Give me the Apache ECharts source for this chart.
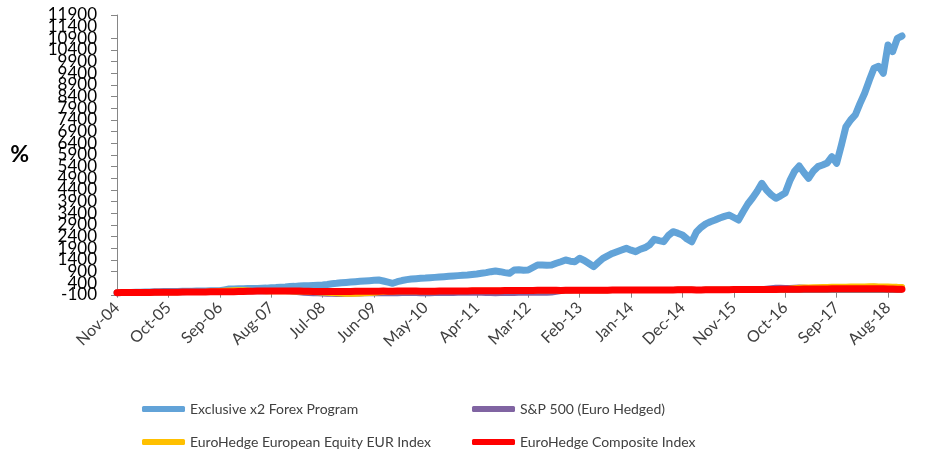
<!DOCTYPE html>
<html>
<head>
<meta charset="utf-8">
<script src="https://cdn.jsdelivr.net/npm/echarts@6/dist/echarts.min.js"></script>
<style>
  html, body { margin: 0; padding: 0; background: #fff; }
  #main { width: 938px; height: 453px; }
</style>
</head>
<body>
<div id="main"></div>
<script>
// monthly, Nov-04 .. Nov-18
var monthNames = ['Jan', 'Feb', 'Mar', 'Apr', 'May', 'Jun', 'Jul', 'Aug', 'Sep', 'Oct', 'Nov', 'Dec']
var months = []
for (var m = 0; m < 169; m++) {
  var mi = (10 + m) % 12
  var yr = 4 + Math.floor((10 + m) / 12)
  months.push(monthNames[mi] + '-' + (yr < 10 ? '0' + yr : '' + yr))
}

var forexX2 = [
  0, 5, 10, 12, 18, 22, 25, 30, 35, 41,
  45, 50, 48, 55, 60, 62, 65, 70, 72, 75, 78, 80, 84,
  120, 157, 160, 165, 170, 175, 178, 182, 187,
  195, 210, 220, 235, 245, 260, 270, 286,
  295, 300, 310, 320, 329,
  350, 380, 400, 427,
  440, 455, 470, 485, 500,
  515, 530, 543,
  500, 450, 401,
  470, 520, 560, 586,
  600, 615, 625, 640, 655, 670, 684,
  700, 715, 730, 745, 760, 780, 800,
  830, 860, 900, 929,
  900, 860, 830,
  971, 980, 965, 971,
  1080, 1186, 1190, 1180, 1186,
  1260, 1327, 1400, 1350, 1327, 1473,
  1380, 1250, 1113, 1300, 1473,
  1580, 1680, 1756, 1830, 1900, 1820, 1756,
  1860, 1930, 2050, 2287, 2230, 2184, 2450,
  2613, 2550, 2472, 2300, 2184, 2600, 2800,
  2950, 3040, 3114, 3200, 3270, 3329, 3220, 3114,
  3470, 3800, 4057, 4350, 4687, 4400, 4200,
  4044, 4150, 4272, 4800, 5200, 5429, 5150,
  4901, 5200, 5400, 5472, 5560, 5827, 5545,
  6300, 7113, 7400, 7615, 8100, 8545, 9100, 9616,
  9700, 9402, 10615, 10328, 10902, 11000
]

var sp500Hedged = [
  0, 2, 4, 5, 6, 8, 9, 11, 12, 14, 16, 17,
  19, 21, 23, 24, 26, 27, 29, 31, 33, 34, 36, 38,
  40, 42, 44, 48, 55, 60, 62, 64, 66, 68, 70, 72,
  68, 60, 40, 20, 0, -10, -20, -30, -40, -45, -50, -52,
  -55, -50, -45, -40, -35, -30, -28, -25, -22, -20, -25, -22,
  -20, -18, -15, -12, -15, -20, -22, -20, -18, -16, -14, -12,
  -10, -8, -6, -4, -2, 0, -2, -10, -15, -20, -18, -15,
  -12, -10, -8, -6, -5, -4, -3, -2, 0, 10, 40, 70,
  90, 95, 100, 103, 104, 103, 102, 104, 106, 108, 110, 111,
  112, 113, 114, 112, 110, 109, 111, 113, 115, 116, 118, 119,
  120, 121, 122, 120, 118, 119, 121, 123, 125, 127, 128, 130,
  131, 132, 133, 134, 135, 140, 150, 170, 190, 210, 215, 205,
  200, 210, 220, 215, 200, 205, 210, 215, 220, 225, 230, 232,
  235, 238, 240, 242, 245, 248, 250, 240, 230, 235, 238, 225, 220
]

var euroEquity = [
  0, 2, 4, 5, 7, 8, 10, 12, 13, 15, 17, 18,
  20, 22, 24, 25, 27, 28, 30, 35, 45, 55, 70, 85,
  95, 100, 105, 100, 95, 75, 70, 68, 66, 64, 62, 60,
  58, 56, 54, 50, 45, 35, 25, 15, 5, -5, -15, -25,
  -35, -45, -50, -45, -40, -30, -15, 0, 20, 40, 50, 55,
  60, 63, 64, 65, 66, 64, 62, 63, 65, 67, 69, 70,
  72, 73, 75, 76, 78, 80, 81, 82, 83, 85, 86, 88,
  90, 92, 94, 95, 97, 98, 99, 100, 101, 100, 99, 98,
  100, 101, 102, 103, 104, 103, 102, 104, 106, 108, 110, 111,
  112, 113, 114, 112, 110, 109, 111, 113, 115, 116, 118, 119,
  120, 121, 122, 120, 118, 119, 121, 123, 125, 127, 128, 130,
  131, 132, 133, 134, 135, 136, 137, 138, 139, 140, 142, 150,
  170, 190, 210, 220, 225, 230, 235, 240, 245, 250, 252, 255,
  258, 260, 262, 265, 268, 270, 272, 268, 262, 260, 258, 250, 248
]

var euroComposite = [
  0, 2, 4, 5, 7, 8, 10, 12, 13, 15, 17, 18,
  20, 22, 24, 25, 27, 28, 30, 32, 34, 35, 37, 39,
  41, 43, 45, 50, 60, 65, 68, 70, 72, 74, 75, 76,
  74, 72, 70, 68, 66, 60, 55, 50, 48, 46, 45, 47,
  50, 53, 55, 58, 60, 62, 63, 65, 66, 67, 65, 66,
  68, 70, 71, 72, 70, 66, 64, 63, 65, 67, 69, 70,
  72, 73, 75, 76, 78, 80, 81, 82, 83, 85, 86, 88,
  90, 92, 94, 95, 97, 98, 99, 100, 101, 100, 99, 98,
  100, 101, 102, 103, 104, 103, 102, 104, 106, 108, 110, 111,
  112, 113, 114, 112, 110, 109, 111, 113, 115, 116, 118, 119,
  120, 121, 122, 120, 118, 119, 121, 123, 125, 127, 128, 130,
  131, 132, 133, 134, 135, 136, 137, 138, 139, 140, 142, 144,
  146, 148, 150, 152, 154, 156, 158, 160, 162, 164, 165, 166,
  167, 168, 169, 170, 171, 170, 168, 166, 164, 160, 155, 150, 148
]

var seriesNames = [
  'Exclusive x2 Forex Program',
  'S&P 500 (Euro Hedged)',
  'EuroHedge European Equity EUR Index',
  'EuroHedge Composite Index'
]
var colors = ['#62A3D8', '#8064A2', '#FFC000', '#FF0000']
var widths = [7, 6, 6, 7]

// y axis range and the two labels next to the ends (drawn on a helper axis,
// echarts drops them when they overlap the min/max labels)
var yMin = -100
var yMax = 11900
var yStep = 500
var nearEndLabels = [yMin + yStep, yMax - yStep]

var fontFamily = 'Lato, "Open Sans", sans-serif'

function legendAt (name, left, top) {
  return {
    data: [name],
    left: left,
    top: top,
    icon: 'roundRect',
    itemWidth: 43,
    itemHeight: 6,
    selectedMode: false,
    textStyle: { color: '#404040', fontSize: 14, fontFamily: fontFamily }
  }
}

function lineSeries (i, data) {
  return {
    name: seriesNames[i],
    type: 'line',
    data: data,
    yAxisIndex: 0,
    showSymbol: false,
    symbol: 'none',
    smooth: false,
    lineStyle: { width: widths[i], color: colors[i], cap: 'round', join: 'round' },
    itemStyle: { color: colors[i] }
  }
}

var yLabelStyle = {
  color: '#000',
  fontSize: 17,
  margin: 20,
  fontFamily: fontFamily
}

var chart = echarts.init(document.getElementById('main'))
chart.setOption({
  animation: false,
  color: colors,
  grid: { left: 117, right: 36, top: 15, bottom: 158 },
  legend: [
    legendAt(seriesNames[0], 137, 397),
    legendAt(seriesNames[1], 467, 397),
    legendAt(seriesNames[2], 137, 430),
    legendAt(seriesNames[3], 467, 430)
  ],
  xAxis: {
    type: 'category',
    boundaryGap: false,
    data: months,
    axisLine: { lineStyle: { color: '#868686', width: 1 } },
    axisTick: { interval: 10, length: 5, lineStyle: { color: '#868686' } },
    axisLabel: {
      interval: 10,
      rotate: 45,
      margin: 10,
      color: '#404040',
      fontSize: 16,
      fontFamily: fontFamily
    },
    splitLine: { show: false }
  },
  yAxis: [
    {
      type: 'value',
      min: yMin,
      max: yMax,
      interval: yStep,
      name: '%',
      nameLocation: 'middle',
      nameRotate: 0,
      nameGap: 88,
      nameTextStyle: { color: '#000', fontSize: 23, fontWeight: 'bold', fontFamily: fontFamily },
      axisLine: { show: true, lineStyle: { color: '#868686', width: 1 } },
      axisTick: { show: true, length: 6, lineStyle: { color: '#868686' } },
      axisLabel: Object.assign({
        showMinLabel: true,
        showMaxLabel: true,
        formatter: function (v) { return String(v) }
      }, yLabelStyle),
      splitLine: { show: false }
    },
    {
      type: 'value',
      position: 'left',
      min: yMin,
      max: yMax,
      interval: yStep,
      axisLine: { show: false },
      axisTick: { show: false },
      splitLine: { show: false },
      axisLabel: Object.assign({
        showMinLabel: false,
        showMaxLabel: false,
        formatter: function (v) {
          return nearEndLabels.indexOf(v) >= 0 ? String(v) : ''
        }
      }, yLabelStyle)
    }
  ],
  series: [
    lineSeries(0, forexX2),
    lineSeries(1, sp500Hedged),
    lineSeries(2, euroEquity),
    lineSeries(3, euroComposite)
  ]
})
</script>
</body>
</html>
